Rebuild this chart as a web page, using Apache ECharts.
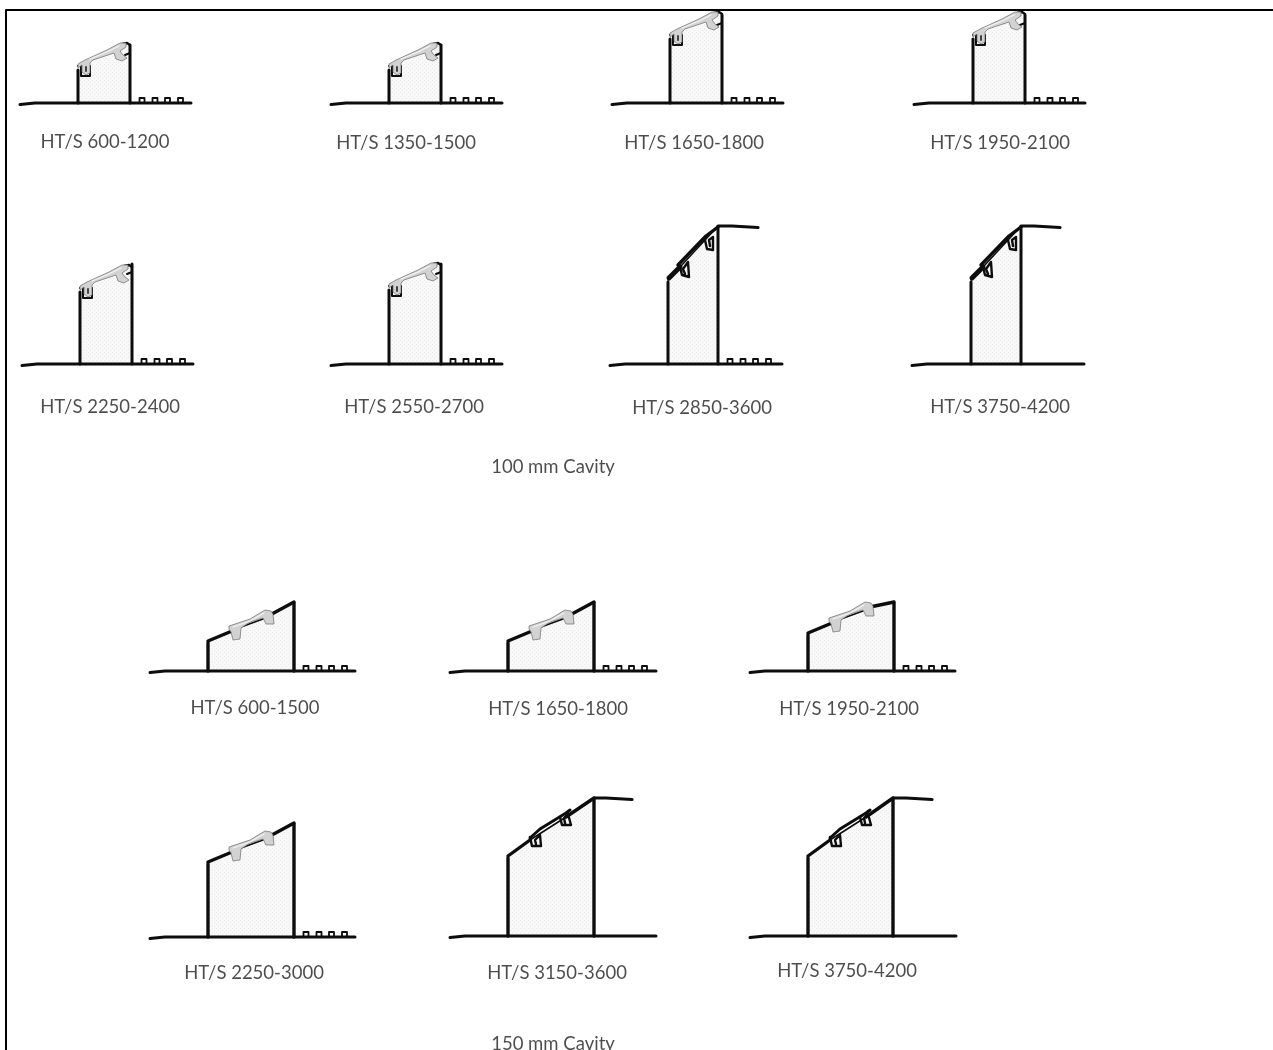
<!DOCTYPE html>
<html><head><meta charset="utf-8">
<style>html,body{margin:0;padding:0;background:#fff}#c{width:1273px;height:1050px}</style>
<script src="https://cdn.jsdelivr.net/npm/echarts@6/dist/echarts.min.js"></script>
</head><body><div id="c"></div>
<script>
// Profile labels and geometry (axis units = page pixels)
const labels = ["HT/S 600-1200","HT/S 1350-1500","HT/S 1650-1800","HT/S 1950-2100","HT/S 2250-2400","HT/S 2550-2700","HT/S 2850-3600","HT/S 3750-4200","HT/S 600-1500","HT/S 1650-1800","HT/S 1950-2100","HT/S 2250-3000","HT/S 3150-3600","HT/S 3750-4200"];
const labelX = [105,406,694,1000,110,414,702,1000,255,558,849,254,557,847];
const labelY = [142,143,143,143,407,407,408,407,708,709,709,973,973,971];
const baseStart = [20,331,612,914,22,331,610,912,150,450,750,150,450,750];
const baseEnd   = [191,502,783,1085,193,502,782,1084,355,656,955,355,656,956];
const wallLeft  = [78,389,670,973,80,389,668,971,208,508,808,208,508,808];
const wallRight = [130,441,722,1025,132,441,718,1021,294,594,894,294,594,893];
const baseY     = [103,103,103,103,364,364,364,364,671,671,671,937,936,936];
const leftTop   = [68,68,37,37,290,288,280,280,641,641,633,862,856,856];
const rightTop  = [44,44,14,14,263,263,226,226,602,602,602,823,798,798];
const flatEnd   = [0,0,0,0,0,0,758,1060,0,0,0,0,632,932];
const hasStuds  = [1,1,1,1,1,1,1,0,1,1,1,1,0,0];
const profileKind = ["greyNarrow","greyNarrow","greyNarrow","greyNarrow","greyNarrow","greyNarrow","blackNarrow","blackNarrow","greyWide","greyWide","greyWide","greyWide","blackWide","blackWide"];
const studOffsets = [9.5,22.5,35,48];
const cavityLabels = ["100 mm Cavity","150 mm Cavity"];
const cavityX = [553,553];
const cavityY = [467,1044];
const frameX = [6,6,1273];
const frameY = [1050,10,10];

// Cap outlines, offsets from the left wall top
const capNarrow = [[0,-4],[7,-8],[29,-18],[42,-25],[48,-25],[48,-21],[42,-17],[45,-13],[49,-10],[44,-7],[38,-9],[36,-15],[15,-8],[12,-5],[12,5],[8,7],[4,4],[4,-3],[0,0]];
const capNarrowLight = [[12,-9],[29,-16],[41,-22]];
const capNarrowInner = [[8,-1],[8,3]];
const capWide = [[21,-15],[42,-22],[57,-31],[63,-30],[65,-27],[66,-17],[58,-17],[55,-23],[42,-19],[33,-13],[32,-2],[25,-1],[23,-9],[21,-12]];
const capWideLight = [[25,-14],[42,-20],[56,-28]];
const narrowHook = [[0,-2],[3,-4],[3,8],[12,8],[12,-2]];
const narrowRight = [[44,-24],[49,-25],[52,-23]];
const blackNarrowStrip = [[10,-15],[38,-44],[50,-53]];
const blackNarrowHookA = [[12,-13],[14,-5],[21,-3],[20,-18],[15,-11],[17,-6]];
const blackNarrowHookB = [[37,-40],[39,-31],[45,-30],[45,-43],[41,-40],[42,-34]];
const blackNarrowBlob = [[1,-2],[12,-13]];
const blackWideStrip = [[22,-18],[32,-27],[58,-43],[62,-46]];
const blackWideHookA = [[22,-19],[24,-10],[33,-10],[32,-21],[27,-16],[28,-12]];
const blackWideHookB = [[52,-39],[54,-31],[63,-31],[60,-42],[56,-38],[57,-33]];

const pattern = document.createElement('canvas');
pattern.width = pattern.height = 4;
const pc = pattern.getContext('2d');
pc.fillStyle = '#f8f8f8'; pc.fillRect(0,0,4,4);
pc.fillStyle = '#ebebeb'; pc.fillRect(0,0,1,1); pc.fillRect(2,2,1,1);

const series = [];
function line(pts, width, color, z) {
  series.push({type:'line', data:pts, symbol:'none', silent:true, animation:false, z:z||5,
    lineStyle:{color:color||'#0d0d0d', width:width, cap:'round', join:'round'}});
}
function polygons(list, fill, stroke, z) {
  series.push({type:'custom', silent:true, animation:false, z:z, coordinateSystem:'cartesian2d',
    data:list.map((_,i)=>[i,0]), encode:{x:0,y:1},
    renderItem:(p,api)=>({type:'polygon',
      shape:{points:list[api.value(0)].map(q=>api.coord(q))},
      style:{fill:fill, stroke:stroke||null, lineWidth:stroke?0.7:0}})});
}
const rel = (arr,ox,oy) => arr.map(q=>[ox+q[0],oy+q[1]]);

const fills = [], caps = [];
labels.forEach((_,i)=>{
  const xL=wallLeft[i], xR=wallRight[i], yB=baseY[i], yL=leftTop[i], yR=rightTop[i], kind=profileKind[i];
  const w = i<8 ? 3 : 3.4;
  fills.push([[xL,yL],[xR,yR],[xR,yB],[xL,yB]]);
  line([[baseStart[i],yB+1.5],[baseStart[i]+15,yB],[baseEnd[i],yB]], 3);
  line([[xL,yB],[xL,yL+2]], w);
  line([[xR,yB],[xR,yR+1]], w);
  if (hasStuds[i]) studOffsets.forEach(o=>{
    const a=xR+o;
    line([[a,yB],[a,yB-5],[a+5,yB-5],[a+5,yB]],1.8);
  });
  if (flatEnd[i]) line([[xR,yR],[flatEnd[i]-26,yR],[flatEnd[i],yR+1.5]],3.2);
  if (kind==='greyNarrow') {
    caps.push(rel(capNarrow,xL,yL));
    line(rel(narrowHook,xL,yL),2);
    line(rel(narrowRight,xL,yL),2.4);
    line([[xR-5,yR+11],[xR,yR+9]],2);
    line(rel(capNarrowLight,xL,yL),1.2,'#f4f4f4',7);
    line(rel(capNarrowInner,xL,yL),1.8,'#333',7);
  } else if (kind==='greyWide') {
    caps.push(rel(capWide,xL,yL));
    line([[xL,yL],[xL+24,yL-10]],w);
    line([[xL+62,yL-26],[xR,yR]],w);
    line([[xL+33,yL-14],[xL+55,yL-22]],1.6);
    line(rel(capWideLight,xL,yL),1.2,'#f4f4f4',7);
  } else if (kind==='blackNarrow') {
    line([[xL,yL],[xR,yR]],1.6);
    line(rel(blackNarrowStrip,xL,yL),3.4);
    line(rel(blackNarrowBlob,xL,yL),5);
    line(rel(blackNarrowHookA,xL,yL),2.4);
    line(rel(blackNarrowHookB,xL,yL),2.4);
  } else {
    line([[xL,yL],[xL+22,yL-16]],w);
    line([[xL+58,yL-39],[xR,yR]],w);
    line([[xL+22,yL-16],[xL+58,yL-39]],1.6);
    line(rel(blackWideStrip,xL,yL),3);
    line(rel(blackWideHookA,xL,yL),2.4);
    line(rel(blackWideHookB,xL,yL),2.4);
  }
});
polygons(fills,{image:pattern,repeat:'repeat'},null,2);
polygons(caps,'#d2d2d2','#6a6a6a',6);
line(frameX.map((x,i)=>[x,frameY[i]]),2,'#000',1);

series.push({type:'scatter', silent:true, animation:false, symbolSize:1, itemStyle:{color:'rgba(0,0,0,0)'}, z:8,
  data:labels.map((t,i)=>[labelX[i],labelY[i],t]).concat(cavityLabels.map((t,i)=>[cavityX[i],cavityY[i],t])),
  label:{show:true, position:'inside', color:'#1f1f1f', fontFamily:'Lato', fontSize:18.5, formatter:p=>p.data[2]},
  labelLayout:{hideOverlap:false}});

const chart = echarts.init(document.getElementById('c'),null,{renderer:'canvas'});
chart.setOption({
  backgroundColor:'#fff', animation:false, tooltip:{show:false},
  grid:{left:0,right:0,top:0,bottom:0},
  xAxis:{type:'value',min:0,max:1273,show:false},
  yAxis:{type:'value',min:0,max:1050,inverse:true,show:false},
  series
});
</script></body></html>
